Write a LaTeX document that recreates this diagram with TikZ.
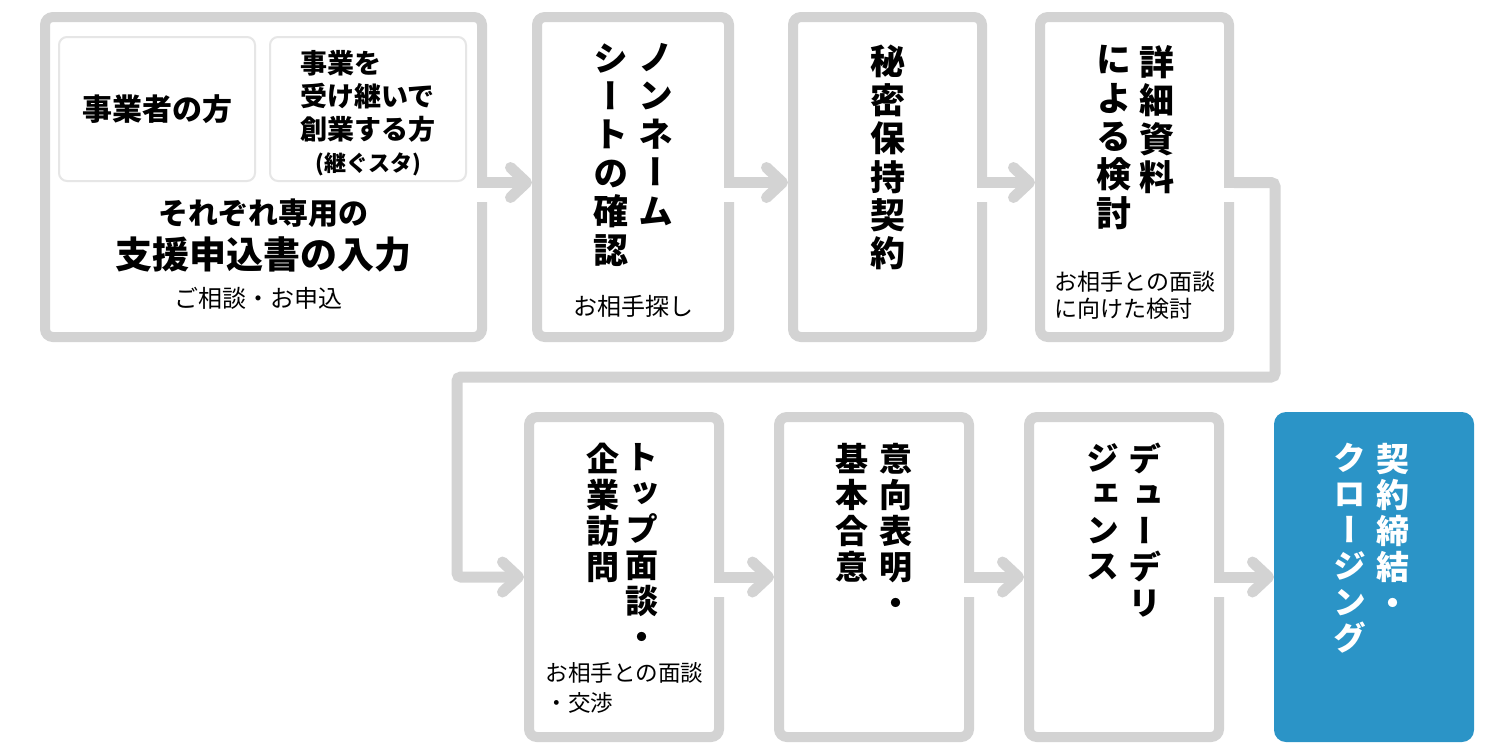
\documentclass[tikz,border=0pt]{standalone}
\usepackage{fontspec}
\setmainfont{Noto Sans CJK JP}
\newfontfamily\tatefont[RawFeature=+vert]{Noto Sans CJK JP}
\usetikzlibrary{arrows.meta, positioning, calc}
\definecolor{linegray}{HTML}{D3D3D3}
\definecolor{subgray}{HTML}{E6E6E6}
\definecolor{closeblue}{HTML}{2B94C7}

\begin{document}
\begin{tikzpicture}[
    x=0.5pt, y=-0.5pt,
    stepbox/.style={draw=linegray, line width=5pt, fill=white, rounded corners=4pt, minimum width=#1, minimum height=160pt, inner sep=0pt},
    subbox/.style={draw=subgray, line width=1pt, rounded corners=4pt, minimum width=98pt, minimum height=72pt},
    vcol/.style={font=\tatefont\bfseries\fontsize{17.5pt}{19.2pt}\selectfont, align=center, inner sep=0pt, anchor=north},
    vcolb/.style={vcol, font=\tatefont\bfseries\fontsize{16.5pt}{18pt}\selectfont},
    note/.style={font=\fontsize{11.5pt}{13.5pt}\selectfont, inner sep=0pt, align=left},
    flow/.style={draw=linegray, line width=5.5pt, -{Straight Barb[round, length=8pt, width=15pt]}},
    gap/.style={fill=white},
]
    \useasboundingbox (0,0) rectangle (1500,752);

    % First row
    \node[stepbox=218.5pt] (entry) at (263.5,177) {};
    \node[stepbox=96pt, right=22.5pt of entry] (nonname) {};
    \node[stepbox=94.5pt, right=27pt of nonname] (nda) {};
    \node[stepbox=94.5pt, right=24pt of nda] (review) {};

    % Second row
    \node[stepbox=95pt] (topmeet) at (624,577) {};
    \node[stepbox=95pt, right=25pt of topmeet] (loi) {};
    \node[stepbox=95pt, right=25pt of loi] (dd) {};
    \node[fill=closeblue, rounded corners=6pt, minimum width=100pt, minimum height=165pt, inner sep=0pt, outer sep=0pt, right=25pt of dd] (closing) {};

    % Application
    \node[subbox] (owner) at (157,109) {\bfseries\fontsize{15pt}{18pt}\selectfont 事業者の方};
    \node[subbox] (heir) at (368,109) {};
    \node[font=\bfseries\fontsize{13.5pt}{16.5pt}\selectfont, align=left] (heirtext) at (368,96) {事業を\\受け継いで\\創業する方};
    \node[font=\bfseries\fontsize{11pt}{13pt}\selectfont] (kegusuta) at (368,164) {(継ぐスタ)};
    \node[font=\bfseries\fontsize{15pt}{18pt}\selectfont] (each) at (263,213) {それぞれ専用の};
    \node[font=\bfseries\fontsize{18.5pt}{22pt}\selectfont] (form) at (263,254) {支援申込書の入力};
    \node[font=\fontsize{12pt}{14pt}\selectfont] (consult) at (258,298) {ご相談・お申込};

    % Non-name sheet
    \node[vcol] (nntext) at ($(nonname.north)+(22.5,31)$) {ノ\\ン\\ネ\\ー\\ム};
    \node[vcol] (sheettext) at ($(nonname.north)+(-22,31)$) {シ\\ー\\ト\\の\\確\\認};
    \node[note, font=\fontsize{12pt}{14pt}\selectfont] (search) at ($(nonname.south)+(0,-36)$) {お相手探し};

    % NDA
    \node[vcol] (ndatext) at ($(nda.north)+(0,33)$) {秘\\密\\保\\持\\契\\約};

    % Detailed review
    \node[vcol] (reviewtext) at ($(review.north)+(22,33)$) {詳\\細\\資\\料};
    \node[vcol] (bytext) at ($(review.north)+(-21,33)$) {に\\よ\\る\\検\\討};
    \node[note, anchor=west] (prep) at ($(review.west)+(19,118.5)$) {お相手との面談\\に向けた検討};

    % Top meeting
    \node[vcolb] (meettext) at ($(topmeet.north)+(18,31)$) {ト\\ッ\\プ\\面\\談\\・};
    \node[vcolb] (visittext) at ($(topmeet.north)+(-21.5,31)$) {企\\業\\訪\\問};
    \node[note, anchor=west, font=\fontsize{11.3pt}{15pt}\selectfont] (nego) at ($(topmeet.west)+(21,111)$) {お相手との面談\\・交渉};

    % LOI
    \node[vcolb] (loitext) at ($(loi.north)+(22,31)$) {意\\向\\表\\明\\・};
    \node[vcolb] (agreetext) at ($(loi.north)+(-22,31)$) {基\\本\\合\\意};

    % Due diligence
    \node[vcolb] (ddtext) at ($(dd.north)+(20.5,31)$) {デ\\ュ\\ー\\デ\\リ};
    \node[vcolb] (ddtext2) at ($(dd.north)+(-21.5,31)$) {ジ\\ェ\\ン\\ス};

    % Closing
    \node[vcolb, text=white] (closetext) at ($(closing.north)+(19,31)$) {契\\約\\締\\結\\・};
    \node[vcolb, text=white] (closetext2) at ($(closing.north)+(-24,31)$) {ク\\ロ\\ー\\ジ\\ン\\グ};

    % Arrows
    \fill[gap] ($(entry.east)+(-12,11)$) rectangle ($(entry.east)+(1,25)$);
    \draw[flow] ($(entry.east)+(0,5.5)$) -- ($(nonname.west)+(0,5.5)$);
    \fill[gap] ($(nonname.east)+(-12,11)$) rectangle ($(nonname.east)+(1,25)$);
    \draw[flow] ($(nonname.east)+(0,5.5)$) -- ($(nda.west)+(0,5.5)$);
    \fill[gap] ($(nda.east)+(-12,11)$) rectangle ($(nda.east)+(1,25)$);
    \draw[flow] ($(nda.east)+(0,5.5)$) -- ($(review.west)+(0,5.5)$);
    \fill[gap] ($(review.east)+(-12,11)$) rectangle ($(review.east)+(1,25)$);
    \draw[flow, rounded corners=2pt] ($(review.east)+(0,5.5)$) -| (1275,377) -| (457,577) -- (topmeet.west);
    \fill[gap] ($(topmeet.east)+(-12,5.5)$) rectangle ($(topmeet.east)+(1,20)$);
    \draw[flow] (topmeet.east) -- (loi.west);
    \fill[gap] ($(loi.east)+(-12,5.5)$) rectangle ($(loi.east)+(1,20)$);
    \draw[flow] (loi.east) -- (dd.west);
    \fill[gap] ($(dd.east)+(-12,5.5)$) rectangle ($(dd.east)+(1,20)$);
    \draw[flow] (dd.east) -- (closing.west);
\end{tikzpicture}
\end{document}
